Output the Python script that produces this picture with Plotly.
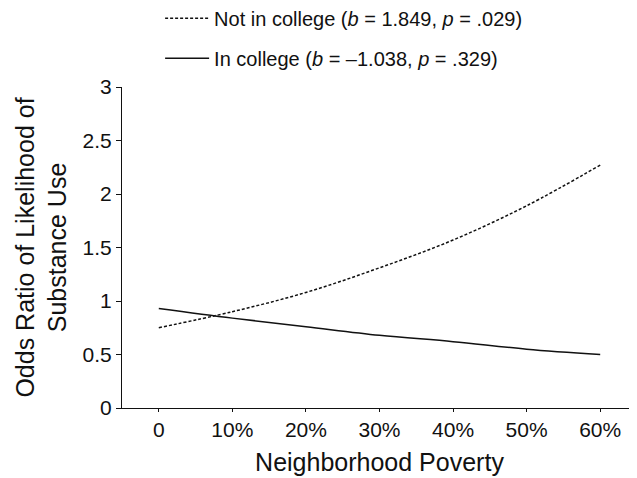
import plotly.graph_objects as go

poverty = [0, 10, 20, 30, 40, 50, 60]
not_in_college = [0.75, 0.90, 1.08, 1.31, 1.57, 1.89, 2.27]
in_college = [0.93, 0.84, 0.76, 0.68, 0.62, 0.55, 0.50]
x_ticks = [0, 10, 20, 30, 40, 50, 60]
x_tick_labels = ["0", "10%", "20%", "30%", "40%", "50%", "60%"]
y_ticks = [0, 0.5, 1, 1.5, 2, 2.5, 3]
y_tick_labels = ["0", "0.5", "1", "1.5", "2", "2.5", "3"]

FONT = "Liberation Sans, Arial, sans-serif"
INK = "#111111"

fig = go.Figure()
fig.add_trace(go.Scatter(
    x=poverty, y=not_in_college, mode="lines", line_shape="spline",
    name="Not in college (<i>b</i> = 1.849, <i>p</i> = .029)",
    legendgroup="a",
    line=dict(color=INK, width=1.5, dash="3px,2px"),
))
fig.add_trace(go.Scatter(
    x=poverty, y=in_college, mode="lines", line_shape="spline",
    name="In college (<i>b</i> = –1.038, <i>p</i> = .329)",
    legendgroup="b",
    line=dict(color=INK, width=1.5),
))

fig.update_layout(
    width=629, height=470,
    margin=dict(l=114, r=0, t=79, b=70, autoexpand=False),
    paper_bgcolor="white", plot_bgcolor="white",
    font=dict(family=FONT, size=21, color=INK),
    showlegend=True,
    legend=dict(
        x=0.074, y=1.275, xanchor="left", yanchor="top",
        font=dict(size=20), bgcolor="rgba(0,0,0,0)",
        traceorder="grouped", tracegroupgap=11, itemwidth=44,
    ),
    xaxis=dict(
        range=[-5, 65], tickvals=x_ticks, ticktext=x_tick_labels, automargin=False,
        showgrid=False, zeroline=False, showline=True, linecolor=INK, linewidth=1.2,
        ticks="outside", ticklen=3, tickcolor=INK, tickwidth=1.2,
        title=dict(text="Neighborhood Poverty", standoff=13),
    ),
    xaxis2=dict(
        range=[-5, 65], tickvals=x_ticks, overlaying="x", anchor="y", side="bottom",
        showgrid=False, zeroline=False, showline=False, showticklabels=False,
        ticks="inside", ticklen=3, tickcolor=INK, tickwidth=1.2,
    ),
    yaxis=dict(
        range=[0, 3], tickvals=y_ticks, ticktext=y_tick_labels, automargin=False,
        showgrid=False, zeroline=False, showline=True, linecolor=INK, linewidth=1.2,
        ticks="outside", ticklen=5, tickcolor=INK, tickwidth=1.2,
        title=dict(text="Odds Ratio of Likelihood of<br>Substance Use", standoff=8),
    ),
)

fig.write_html("out.html")
